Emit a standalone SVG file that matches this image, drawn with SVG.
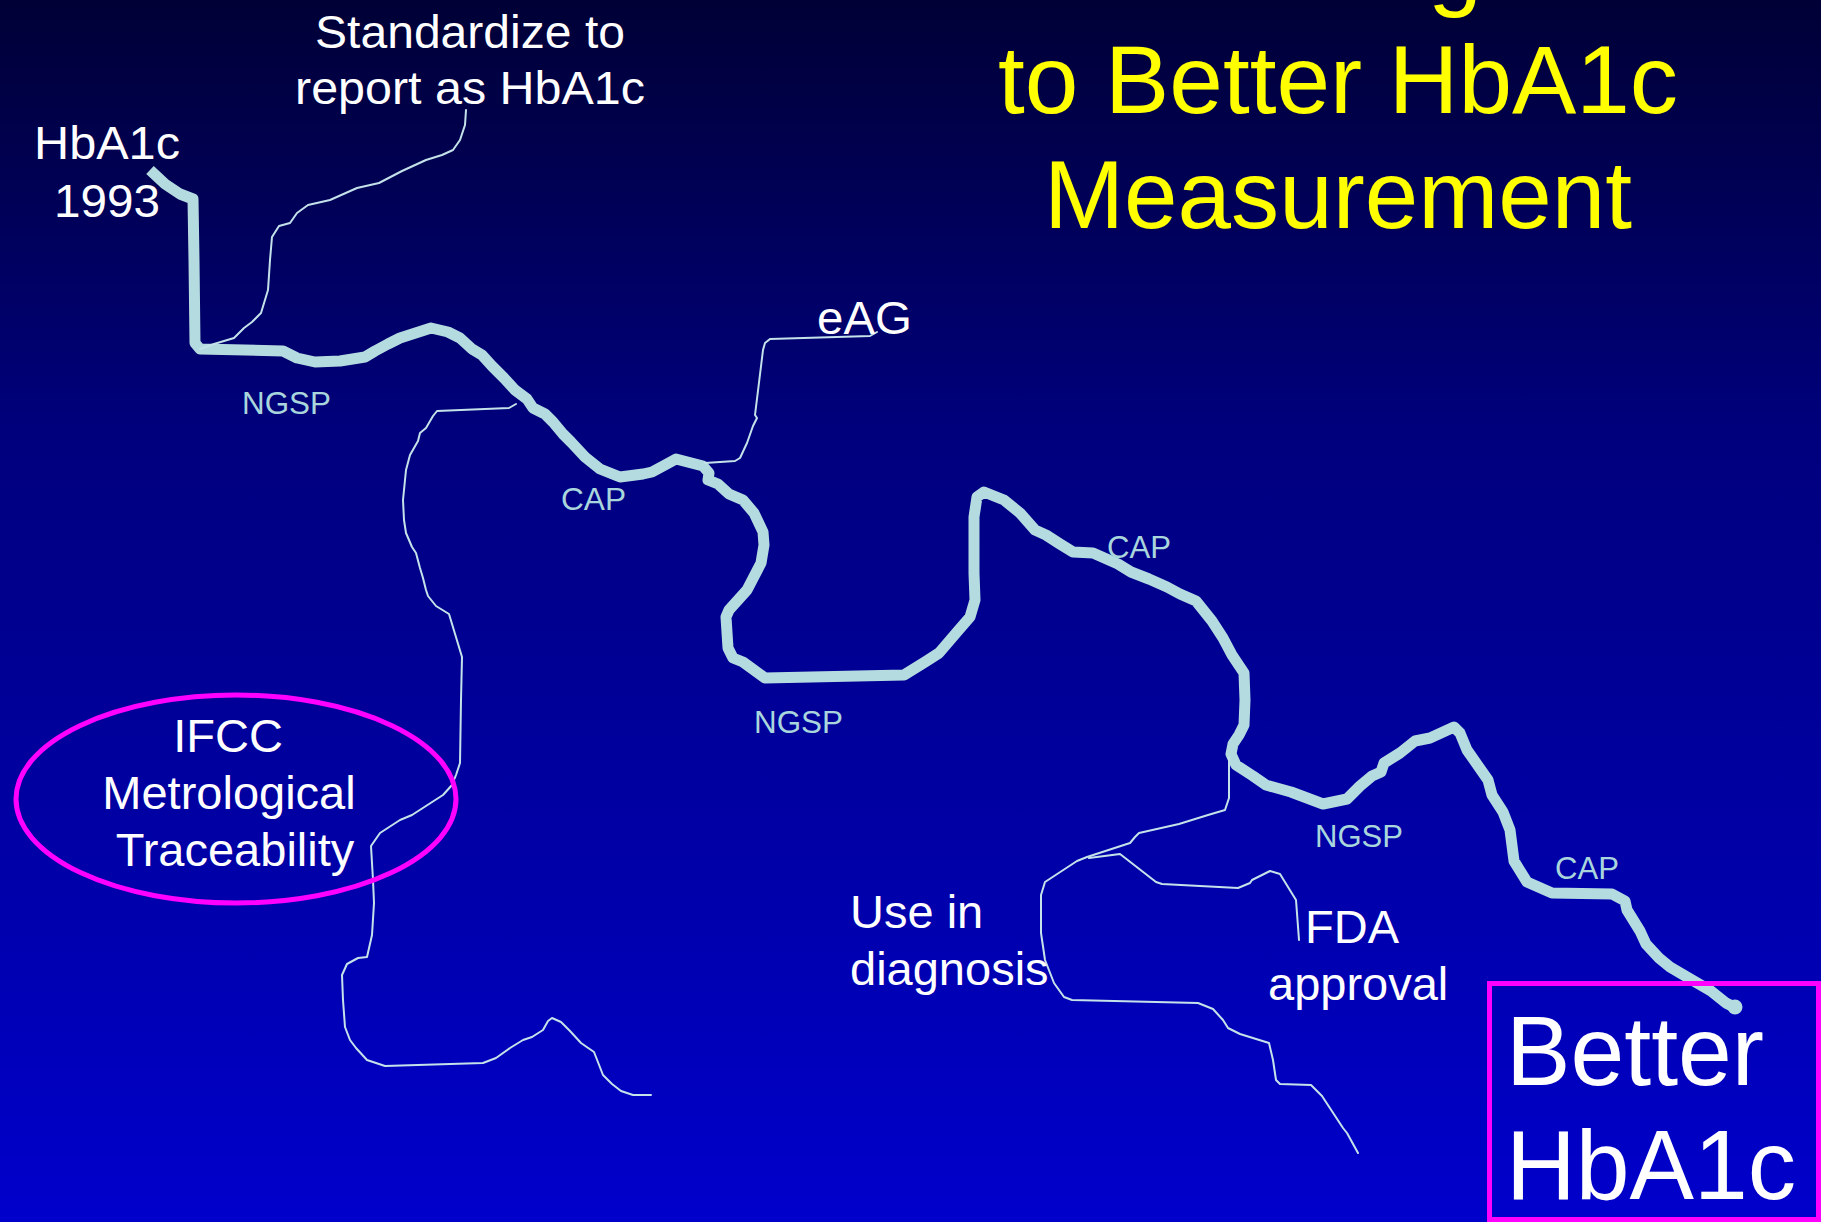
<svg xmlns="http://www.w3.org/2000/svg" width="1821" height="1222" viewBox="0 0 1821 1222">
  <defs>
    <linearGradient id="sky" x1="0" y1="0" x2="0" y2="1">
      <stop offset="0" stop-color="#000036"/>
      <stop offset="0.35" stop-color="#00007c"/>
      <stop offset="1" stop-color="#0000cc"/>
    </linearGradient>
    <style>
      .title { font-family: "Liberation Sans", Arial, sans-serif; font-size: 97px; fill: #ffff00; text-anchor: middle; }
      .label { font-family: "Liberation Sans", Arial, sans-serif; font-size: 47px; fill: #ffffff; }
      .big { font-family: "Liberation Sans", Arial, sans-serif; font-size: 98px; fill: #ffffff; }
      .org { font-family: "Liberation Sans", Arial, sans-serif; font-size: 32px; fill: #a9d6dc; }
      .river { fill: none; stroke: #b4dce0; stroke-width: 11; stroke-linejoin: round; stroke-linecap: butt; }
      .stream { fill: none; stroke: #c4e2ea; stroke-width: 2; stroke-linejoin: round; stroke-linecap: round; }
      .ring { fill: none; stroke: #ff00ff; stroke-width: 5; }
    </style>
  </defs>

  <!-- background -->
  <rect x="0" y="0" width="1821" height="1222" fill="url(#sky)"/>

  <!-- title -->
  <g id="title">
    <text class="title" x="1428" y="-2" style="text-anchor:start">g</text>
    <text class="title" x="1338" y="113" textLength="680" lengthAdjust="spacingAndGlyphs">to Better HbA1c</text>
    <text class="title" x="1338" y="228" textLength="588" lengthAdjust="spacingAndGlyphs">Measurement</text>
  </g>

  <!-- connectors: main river and tributaries -->
  <g id="connectors">
    <polyline id="river" class="river" points="150,170 165,184 180,194 193,199 194,260 195,343 200,349 283,351 297,358 315,362 340,361 365,357 375,351 388,344 400,338 431,328 448,332 460,338 472,349 482,355 492,366 504,378 515,390 527,399 533,408 545,414 553,422 563,434 571,442 585,457 600,469 620,477 643,474 652,472 665,465 676,459 703,466 709,473 708,480 718,484 729,494 743,500 754,513 763,532 764,545 761,563 747,590 729,610 726,617 728,648 733,658 743,662 765,678 904,675 925,662 939,653 957,632 970,617 975,600 974,573 974,517 977,497 984,492 1004,500 1020,513 1035,530 1046,535 1060,544 1073,552 1093,553 1118,564 1131,572 1149,579 1167,587 1180,594 1196,601 1212,621 1223,638 1232,655 1244,673 1245,700 1244,725 1239,735 1233,744 1231,754 1236,765 1253,776 1266,785 1291,792 1323,804 1347,799 1360,786 1372,776 1381,772 1384,763 1400,753 1415,741 1430,738 1454,727 1460,733 1467,750 1488,780 1492,795 1503,812 1510,830 1514,861 1527,882 1552,893 1612,894 1625,901 1627,910 1640,931 1646,944 1659,958 1670,967 1687,977 1711,991 1726,1003 1734,1007"/>
    <circle cx="1735" cy="1007" r="7.5" fill="#b4dce0"/>
    <polyline id="stream-standardize" class="stream" points="466,110 465,125 460,140 453,150 442,155 426,160 402,171 379,183 357,188 330,200 308,205 297,213 290,223 279,226 272,237 270,260 268,290 261,313 252,322 244,328 234,338 214,344 200,349"/>
    <polyline id="stream-ifcc" class="stream" points="516,404 509,408 437,411 433,416 426,428 420,433 418,441 410,455 406,470 403,500 404,520 406,533 412,547 416,553 420,568 423,578 426,590 428,596 436,606 449,614 462,657 461,700 460,763 456,775 452,785 443,795 412,815 400,820 380,833 371,846 373,880 374,903 372,935 367,957 358,958 347,964 342,975 343,1000 345,1027 350,1040 356,1048 367,1060 385,1066 483,1063 496,1058 510,1048 523,1040 532,1037 543,1030 548,1021 552,1018 561,1022 570,1031 581,1043 594,1052 603,1075 612,1084 621,1091 633,1095 651,1095"/>
    <polyline id="stream-eag" class="stream" points="877,332 870,336 770,339 765,343 763,350 755,415 757,418 753,426 747,443 740,458 735,461 705,463"/>
    <polyline id="stream-diagnosis" class="stream" points="1229,758 1229,798 1225,810 1208,815 1179,824 1139,833 1135,837 1130,843 1087,857 1077,861 1045,882 1041,895 1041,933 1045,960 1054,983 1064,997 1072,1000 1198,1003 1213,1009 1223,1020 1228,1028 1240,1034 1269,1043 1273,1060 1276,1080 1280,1084 1311,1085 1322,1096 1343,1128 1347,1133 1358,1153"/>
    <polyline id="stream-fda" class="stream" points="1089,858 1120,854 1156,882 1162,884 1238,888 1250,883 1252,880 1270,871 1280,874 1296,900 1299,940"/>
  </g>

  <!-- river labels -->
  <g id="orgs">
    <text class="org" x="242" y="414" textLength="89" lengthAdjust="spacingAndGlyphs">NGSP</text>
    <text class="org" x="561" y="510" textLength="65" lengthAdjust="spacingAndGlyphs">CAP</text>
    <text class="org" x="754" y="733" textLength="89" lengthAdjust="spacingAndGlyphs">NGSP</text>
    <text class="org" x="1107" y="558" textLength="64" lengthAdjust="spacingAndGlyphs">CAP</text>
    <text class="org" x="1315" y="847" textLength="88" lengthAdjust="spacingAndGlyphs">NGSP</text>
    <text class="org" x="1555" y="879" textLength="64" lengthAdjust="spacingAndGlyphs">CAP</text>
  </g>

  <!-- milestone nodes -->
  <g id="node-start">
    <text class="label" x="107" y="159" text-anchor="middle" textLength="146" lengthAdjust="spacingAndGlyphs">HbA1c</text>
    <text class="label" x="107" y="217" text-anchor="middle" textLength="106" lengthAdjust="spacingAndGlyphs">1993</text>
  </g>
  <g id="node-standardize">
    <text class="label" x="470" y="48" text-anchor="middle" textLength="310" lengthAdjust="spacingAndGlyphs">Standardize to</text>
    <text class="label" x="470" y="104" text-anchor="middle" textLength="350" lengthAdjust="spacingAndGlyphs">report as HbA1c</text>
  </g>
  <g id="node-eag">
    <text class="label" x="817" y="334" textLength="95" lengthAdjust="spacingAndGlyphs">eAG</text>
  </g>
  <g id="node-ifcc">
    <ellipse class="ring" cx="236" cy="799" rx="220" ry="104"/>
    <text class="label" x="228" y="752" text-anchor="middle">IFCC</text>
    <text class="label" x="229" y="809" text-anchor="middle">Metrological</text>
    <text class="label" x="235" y="866" text-anchor="middle">Traceability</text>
  </g>
  <g id="node-diagnosis">
    <text class="label" x="850" y="928">Use in</text>
    <text class="label" x="850" y="985">diagnosis</text>
  </g>
  <g id="node-fda">
    <text class="label" x="1305" y="943">FDA</text>
    <text class="label" x="1268" y="1000">approval</text>
  </g>
  <g id="node-better">
    <rect class="ring" x="1489.5" y="983.5" width="329" height="236" stroke-width="5"/>
    <text class="big" x="1506" y="1085" textLength="258" lengthAdjust="spacingAndGlyphs">Better</text>
    <text class="big" x="1506" y="1199" textLength="290" lengthAdjust="spacingAndGlyphs">HbA1c</text>
  </g>
</svg>
